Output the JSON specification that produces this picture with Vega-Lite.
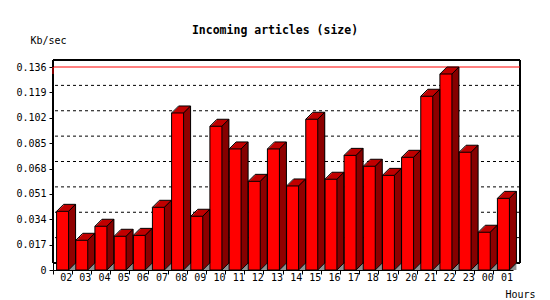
{
  "$schema": "https://vega.github.io/schema/vega-lite/v6.json",
  "width": 460,
  "height": 203,
  "autosize": "none",
  "padding": {"left": 53, "top": 67, "right": 37, "bottom": 30},
  "background": "white",
  "title": {"text": "Incoming articles (size)", "font": "DejaVu Sans Mono", "fontSize": 11.5, "fontWeight": "bold", "color": "black", "anchor": "middle", "frame": "group", "dx": -8, "dy": 5},
  "data": {"values": [
    {"h": "02", "v": 0.0393}, {"h": "03", "v": 0.0199}, {"h": "04", "v": 0.0293}, {"h": "05", "v": 0.0226},
    {"h": "06", "v": 0.0232}, {"h": "07", "v": 0.0420}, {"h": "08", "v": 0.1052}, {"h": "09", "v": 0.0360},
    {"h": "10", "v": 0.0963}, {"h": "11", "v": 0.0811}, {"h": "12", "v": 0.0594}, {"h": "13", "v": 0.0811},
    {"h": "14", "v": 0.0563}, {"h": "15", "v": 0.1010}, {"h": "16", "v": 0.0608}, {"h": "17", "v": 0.0768},
    {"h": "18", "v": 0.0695}, {"h": "19", "v": 0.0634}, {"h": "20", "v": 0.0755}, {"h": "21", "v": 0.1164},
    {"h": "22", "v": 0.1313}, {"h": "23", "v": 0.0789}, {"h": "00", "v": 0.0253}, {"h": "01", "v": 0.0480}
  ]},
  "layer": [
    {
      "data": {"values": [{"g": 0.017}, {"g": 0.034}, {"g": 0.051}, {"g": 0.068}, {"g": 0.085}, {"g": 0.102}, {"g": 0.119}]},
      "mark": {"type": "rule", "color": "black", "strokeDash": [3, 3], "xOffset": 7, "x2Offset": 7, "yOffset": -7},
      "encoding": {"y": {"field": "g", "type": "quantitative", "title": "Kb/sec", "scale": {"domain": [0, 0.136], "nice": false}, "axis": {"values": [0, 0.017, 0.034, 0.051, 0.068, 0.085, 0.102, 0.119, 0.136], "tickCount": 20, "labelOverlap": false, "labelExpr": "datum.value == 0 ? '0' : format(datum.value, '.3f')"}}}
    },
    {
      "data": {"values": [{"g": 0.017}, {"g": 0.034}, {"g": 0.051}, {"g": 0.068}, {"g": 0.085}, {"g": 0.102}, {"g": 0.119}]},
      "mark": {"type": "rule", "color": "black", "strokeDash": [2, 2], "x": 0, "x2": 0, "x2Offset": 7, "y2Offset": -7},
      "encoding": {"y": {"field": "g", "type": "quantitative", "title": "Kb/sec"}, "y2": {"field": "g"}}
    },
    {
      "mark": {"type": "rect", "fill": null, "stroke": "black", "strokeWidth": 1, "xOffset": 7, "x2Offset": 7, "yOffset": -7, "y2Offset": -7},
      "encoding": {"y": {"datum": 0.136, "type": "quantitative"}, "y2": {"datum": 0}}
    },
    {
      "transform": [{"aggregate": [{"op": "max", "field": "v", "as": "m"}]}],
      "mark": {"type": "rule", "color": "#ff0000", "xOffset": 7, "x2Offset": 7, "yOffset": -7},
      "encoding": {"y": {"field": "m", "type": "quantitative", "title": "Kb/sec"}}
    },
    {
      "transform": [{"aggregate": [{"op": "max", "field": "v", "as": "m"}]}],
      "mark": {"type": "rule", "color": "#ff0000", "x": 0, "x2": 0, "x2Offset": 7, "y2Offset": -7},
      "encoding": {"y": {"field": "m", "type": "quantitative", "title": "Kb/sec"}, "y2": {"field": "m"}}
    },
    {
      "mark": {"type": "rule", "color": "black", "x": 0, "x2": 0, "x2Offset": 7, "y2Offset": -7},
      "encoding": {"y": {"datum": 0.136, "type": "quantitative"}, "y2": {"datum": 0.136}}
    },
    {
      "mark": {"type": "rule", "color": "black", "x": "width", "x2": "width", "x2Offset": 7, "y2Offset": -7},
      "encoding": {"y": {"datum": 0, "type": "quantitative"}, "y2": {"datum": 0}}
    },
    {
      "mark": {"type": "bar", "fill": "#909090", "width": 7, "xOffset": 9.5, "yOffset": -7},
      "encoding": {"x": {"field": "h", "type": "ordinal", "sort": null, "title": "Hours", "scale": {"paddingInner": 0, "paddingOuter": 0}}, "y": {"datum": 0, "type": "quantitative"}, "y2": {"datum": 0}}
    },
    {"mark": {"type": "bar", "fill": "#c00000", "width": 12, "xOffset": 7, "yOffset": -7, "y2Offset": -7}, "encoding": {"x": {"field": "h", "type": "ordinal", "sort": null, "title": "Hours"}, "y": {"field": "v", "type": "quantitative", "title": "Kb/sec"}, "y2": {"datum": 0}}},
    {"mark": {"type": "bar", "fill": "#c00000", "width": 12, "xOffset": 6, "yOffset": -6, "y2Offset": -6}, "encoding": {"x": {"field": "h", "type": "ordinal", "sort": null, "title": "Hours"}, "y": {"field": "v", "type": "quantitative", "title": "Kb/sec"}, "y2": {"datum": 0}}},
    {"mark": {"type": "bar", "fill": "#c00000", "width": 12, "xOffset": 5, "yOffset": -5, "y2Offset": -5}, "encoding": {"x": {"field": "h", "type": "ordinal", "sort": null, "title": "Hours"}, "y": {"field": "v", "type": "quantitative", "title": "Kb/sec"}, "y2": {"datum": 0}}},
    {"mark": {"type": "bar", "fill": "#c00000", "width": 12, "xOffset": 4, "yOffset": -4, "y2Offset": -4}, "encoding": {"x": {"field": "h", "type": "ordinal", "sort": null, "title": "Hours"}, "y": {"field": "v", "type": "quantitative", "title": "Kb/sec"}, "y2": {"datum": 0}}},
    {"mark": {"type": "bar", "fill": "#c00000", "width": 12, "xOffset": 3, "yOffset": -3, "y2Offset": -3}, "encoding": {"x": {"field": "h", "type": "ordinal", "sort": null, "title": "Hours"}, "y": {"field": "v", "type": "quantitative", "title": "Kb/sec"}, "y2": {"datum": 0}}},
    {"mark": {"type": "bar", "fill": "#c00000", "width": 12, "xOffset": 2, "yOffset": -2, "y2Offset": -2}, "encoding": {"x": {"field": "h", "type": "ordinal", "sort": null, "title": "Hours"}, "y": {"field": "v", "type": "quantitative", "title": "Kb/sec"}, "y2": {"datum": 0}}},
    {"mark": {"type": "bar", "fill": "#c00000", "width": 12, "xOffset": 1, "yOffset": -1, "y2Offset": -1}, "encoding": {"x": {"field": "h", "type": "ordinal", "sort": null, "title": "Hours"}, "y": {"field": "v", "type": "quantitative", "title": "Kb/sec"}, "y2": {"datum": 0}}},
    {"mark": {"type": "bar", "fill": "#800000", "width": 1, "xOffset": 6.5, "yOffset": -1, "y2Offset": -1}, "encoding": {"x": {"field": "h", "type": "ordinal", "sort": null, "title": "Hours"}, "y": {"field": "v", "type": "quantitative", "title": "Kb/sec"}, "y2": {"datum": 0}}},
    {"mark": {"type": "bar", "fill": "#800000", "width": 1, "xOffset": 7.5, "yOffset": -2, "y2Offset": -2}, "encoding": {"x": {"field": "h", "type": "ordinal", "sort": null, "title": "Hours"}, "y": {"field": "v", "type": "quantitative", "title": "Kb/sec"}, "y2": {"datum": 0}}},
    {"mark": {"type": "bar", "fill": "#800000", "width": 1, "xOffset": 8.5, "yOffset": -3, "y2Offset": -3}, "encoding": {"x": {"field": "h", "type": "ordinal", "sort": null, "title": "Hours"}, "y": {"field": "v", "type": "quantitative", "title": "Kb/sec"}, "y2": {"datum": 0}}},
    {"mark": {"type": "bar", "fill": "#800000", "width": 1, "xOffset": 9.5, "yOffset": -4, "y2Offset": -4}, "encoding": {"x": {"field": "h", "type": "ordinal", "sort": null, "title": "Hours"}, "y": {"field": "v", "type": "quantitative", "title": "Kb/sec"}, "y2": {"datum": 0}}},
    {"mark": {"type": "bar", "fill": "#800000", "width": 1, "xOffset": 10.5, "yOffset": -5, "y2Offset": -5}, "encoding": {"x": {"field": "h", "type": "ordinal", "sort": null, "title": "Hours"}, "y": {"field": "v", "type": "quantitative", "title": "Kb/sec"}, "y2": {"datum": 0}}},
    {"mark": {"type": "bar", "fill": "#800000", "width": 1, "xOffset": 11.5, "yOffset": -6, "y2Offset": -6}, "encoding": {"x": {"field": "h", "type": "ordinal", "sort": null, "title": "Hours"}, "y": {"field": "v", "type": "quantitative", "title": "Kb/sec"}, "y2": {"datum": 0}}},
    {"mark": {"type": "bar", "fill": "#800000", "width": 1, "xOffset": 12.5, "yOffset": -7, "y2Offset": -7}, "encoding": {"x": {"field": "h", "type": "ordinal", "sort": null, "title": "Hours"}, "y": {"field": "v", "type": "quantitative", "title": "Kb/sec"}, "y2": {"datum": 0}}},
    {
      "mark": {"type": "bar", "fill": "#ff0000", "stroke": "black", "strokeWidth": 1, "width": 12},
      "encoding": {
        "x": {"field": "h", "type": "ordinal", "sort": null, "title": "Hours", "axis": {"labelAngle": 0, "bandPosition": 0, "labelOffset": 9.6, "tickSize": 4, "labelPadding": 3, "titleX": 452, "titleY": 27, "titleAlign": "left", "titleBaseline": "alphabetic"}},
        "y": {"field": "v", "type": "quantitative", "title": "Kb/sec"},
        "y2": {"datum": 0}
      }
    },
    {"mark": {"type": "rule", "color": "black", "xOffset": -6, "x2Offset": 1, "y2Offset": -7}, "encoding": {"x": {"field": "h", "type": "ordinal", "sort": null, "title": "Hours"}, "x2": {"field": "h"}, "y": {"field": "v", "type": "quantitative", "title": "Kb/sec"}, "y2": {"field": "v"}}},
    {"mark": {"type": "rule", "color": "black", "xOffset": 1, "x2Offset": 13, "yOffset": -7, "y2Offset": -7}, "encoding": {"x": {"field": "h", "type": "ordinal", "sort": null, "title": "Hours"}, "x2": {"field": "h"}, "y": {"field": "v", "type": "quantitative", "title": "Kb/sec"}, "y2": {"field": "v"}}},
    {"mark": {"type": "rule", "color": "black", "xOffset": 6, "x2Offset": 13, "y2Offset": -7}, "encoding": {"x": {"field": "h", "type": "ordinal", "sort": null, "title": "Hours"}, "x2": {"field": "h"}, "y": {"field": "v", "type": "quantitative", "title": "Kb/sec"}, "y2": {"field": "v"}}},
    {"mark": {"type": "rule", "color": "black", "xOffset": 13, "x2Offset": 13, "yOffset": -7, "y2Offset": -7}, "encoding": {"x": {"field": "h", "type": "ordinal", "sort": null, "title": "Hours"}, "x2": {"field": "h"}, "y": {"field": "v", "type": "quantitative", "title": "Kb/sec"}, "y2": {"datum": 0}}},
    {"mark": {"type": "rule", "color": "black", "xOffset": 6, "x2Offset": 13, "y2Offset": -7}, "encoding": {"x": {"field": "h", "type": "ordinal", "sort": null, "title": "Hours"}, "x2": {"field": "h"}, "y": {"datum": 0, "type": "quantitative"}, "y2": {"datum": 0}}}
  ],
  "config": {
    "view": {"stroke": null},
    "axis": {"domainColor": "black", "tickColor": "black", "labelColor": "black", "titleColor": "black", "labelFont": "DejaVu Sans Mono", "labelFontSize": 10, "titleFont": "DejaVu Sans Mono", "titleFontSize": 10, "titleFontWeight": "normal", "grid": false},
    "axisY": {"labelOverlap": false, "tickSize": 4, "labelPadding": 3, "titleAngle": 0, "titleAlign": "left", "titleBaseline": "alphabetic", "titleX": -23, "titleY": -24}
  }
}
